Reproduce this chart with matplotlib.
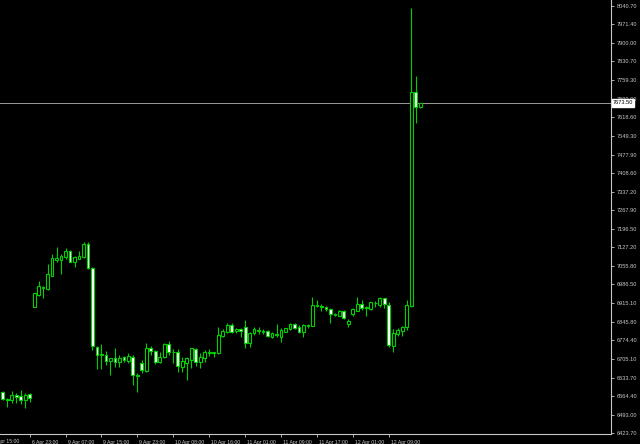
import numpy as np
import matplotlib
matplotlib.use("Agg")
import matplotlib.pyplot as plt
import matplotlib.transforms as mtransforms

# hourly OHLC, one value per bar (left to right)
opens = [6580.0, 6552.4, 6547.5, 6568.6, 6562.6, 6549.7, 6571.2,
         6901.9, 6946.2, 6971.6, 6968.9, 7019.3, 7079.9, 7078.8, 7089.0, 7112.9, 7072.3, 7082.6, 7090.1, 7140.4,
         7049.6, 6750.4, 6719.0, 6717.9, 6697.4, 6706.5, 6691.4, 6710.3, 6696.3, 6710.3,
         6639.5, 6687.6, 6659.0, 6746.7, 6735.3, 6693.6, 6710.3, 6760.6, 6729.3, 6728.5,
         6674.8, 6687.6, 6700.1, 6740.6, 6691.4, 6706.5, 6724.8, 6727.7, 6724.8, 6792.1,
         6807.3, 6832.7, 6811.1, 6817.5, 6826.3, 6763.3, 6801.2, 6811.1, 6806.1, 6811.1,
         6786.1, 6794.8, 6788.4, 6807.3, 6816.4, 6835.3, 6826.3, 6805.0, 6828.8, 6828.8,
         6905.7, 6905.7, 6901.9, 6893.2, 6870.5, 6867.8, 6885.6, 6835.3, 6873.1, 6886.8,
         6912.1, 6901.9, 6893.2, 6914.8, 6908.4, 6933.7, 6908.4, 6754.2, 6798.6, 6811.1,
         6826.3, 6904.6, 7716.1, 7657.0]
highs = [6582.7, 6556.2, 6582.7, 6575.1, 6586.5, 6573.9, 6575.1,
         6955.0, 6999.3, 6980.0, 7062.5, 7101.5, 7126.9, 7100.4, 7123.1, 7115.5, 7095.1, 7112.9, 7145.7, 7148.0,
         7050.5, 6751.2, 6760.6, 6735.3, 6707.6, 6744.4, 6719.0, 6715.2, 6727.7, 6719.0,
         6649.7, 6700.1, 6765.6, 6754.2, 6738.0, 6731.6, 6763.3, 6773.1, 6740.6, 6740.6,
         6712.6, 6712.6, 6746.7, 6744.4, 6727.7, 6738.0, 6741.8, 6731.6, 6826.3, 6816.4,
         6839.1, 6839.1, 6822.4, 6820.2, 6851.5, 6807.3, 6823.9, 6823.9, 6818.6, 6813.7,
         6805.0, 6835.3, 6820.2, 6822.4, 6839.1, 6841.3, 6832.7, 6835.3, 6835.3, 6937.5,
         6927.3, 6911.0, 6904.6, 6895.9, 6879.2, 6889.4, 6889.4, 6854.2, 6895.9, 6937.5,
         6927.3, 6904.6, 6920.9, 6923.5, 6939.7, 6936.0, 6920.9, 6816.4, 6820.2, 6830.0,
         6927.3, 8032.0, 7775.6, 7675.0]
lows = [6548.6, 6523.2, 6538.4, 6538.4, 6534.6, 6517.2, 6542.2,
        6899.0, 6944.0, 6933.6, 6967.0, 7018.0, 7072.3, 7025.8, 7082.6, 7070.1, 7053.4, 7080.7, 7088.2, 7044.7,
        6736.8, 6666.0, 6666.0, 6680.0, 6643.3, 6674.8, 6674.8, 6693.6, 6687.6, 6605.4,
        6580.0, 6652.0, 6654.6, 6719.0, 6685.0, 6687.6, 6707.6, 6719.0, 6687.6, 6655.8,
        6655.8, 6624.3, 6668.6, 6677.4, 6668.6, 6693.6, 6715.2, 6710.3, 6724.0, 6786.1,
        6801.2, 6801.2, 6801.2, 6788.4, 6745.2, 6750.4, 6794.8, 6798.6, 6798.6, 6786.1,
        6782.3, 6788.4, 6767.1, 6805.0, 6813.7, 6816.4, 6801.2, 6786.1, 6820.2, 6827.0,
        6901.9, 6885.6, 6885.6, 6841.3, 6865.0, 6865.0, 6854.2, 6826.3, 6865.0, 6884.0,
        6889.4, 6865.0, 6889.4, 6899.2, 6901.9, 6895.9, 6750.4, 6731.6, 6791.0, 6791.0,
        6813.7, 6902.0, 7596.5, 7653.3]
closes = [6552.4, 6548.6, 6566.4, 6559.9, 6549.7, 6568.6, 6556.2,
          6952.7, 6981.5, 6977.6, 7024.6, 7085.2, 7086.3, 7095.1, 7111.7, 7072.3, 7090.1, 7094.0, 7140.4, 7047.4,
          6754.2, 6719.0, 6720.9, 6697.4, 6706.5, 6693.6, 6708.8, 6700.1, 6716.4, 6643.3,
          6641.4, 6662.2, 6744.4, 6734.2, 6693.6, 6710.3, 6760.6, 6731.6, 6730.4, 6675.5,
          6696.3, 6708.8, 6744.4, 6693.6, 6712.6, 6731.6, 6731.6, 6731.6, 6794.8, 6811.1,
          6832.7, 6807.3, 6816.4, 6810.0, 6765.6, 6803.5, 6816.4, 6812.6, 6808.0, 6792.1,
          6801.2, 6800.4, 6813.7, 6820.2, 6835.3, 6822.4, 6805.0, 6832.7, 6832.7, 6908.4,
          6908.4, 6901.9, 6893.2, 6873.1, 6874.3, 6885.6, 6858.0, 6848.9, 6893.2, 6912.1,
          6897.0, 6895.9, 6918.6, 6915.9, 6933.7, 6912.1, 6756.8, 6801.2, 6813.7, 6826.3,
          6908.4, 7716.1, 7657.0, 7673.5]

time_labels = ["6 Apr 15:00", "6 Apr 23:00", "9 Apr 07:00", "9 Apr 15:00", "9 Apr 23:00",
               "10 Apr 08:00", "10 Apr 16:00", "11 Apr 01:00", "11 Apr 09:00",
               "11 Apr 17:00", "12 Apr 01:00", "12 Apr 09:00"]
price_labels = ["8040.70", "7971.40", "7900.00", "7830.70", "7759.30", "7690.00", "7618.60",
                "7549.30", "7477.90", "7408.60", "7337.20", "7267.90", "7196.50", "7127.20",
                "7055.80", "6986.50", "6915.10", "6845.80", "6774.40", "6705.10", "6633.70",
                "6564.40", "6493.00", "6423.70"]
last_price = 7673.50

o = np.array(opens)
h = np.array(highs)
l = np.array(lows)
c = np.array(closes)
x = np.arange(len(o))

fg = '#c8c8c8'
green = '#00d000'
font = ['Liberation Sans', 'DejaVu Sans']
ysize = 4.1
xsize = 3.7

fig = plt.figure(figsize=(6.4, 4.44), dpi=100, facecolor='black')
ax = fig.add_axes([0, 10 / 444, 611 / 640, 434 / 444])
ax.set_facecolor('black')

# wicks
ax.vlines(x, l, h, color=green, linewidth=0.8, zorder=2)

# bodies: hollow (black) = up, white = down
up = c >= o
body_bottom = np.minimum(o, c)
body_h = np.abs(c - o)
ax.bar(x, body_h, bottom=body_bottom, width=0.62,
       color=np.where(up, 'black', 'white'), edgecolor=green, linewidth=0.8, zorder=3)

# current price line
ax.axhline(last_price, color='#9a9a9a', linewidth=0.7, zorder=1)

ax.set_xlim(-0.6, 135.5)
ax.set_ylim(6419.8, 8063.4)

for side in ['top', 'left']:
    ax.spines[side].set_visible(False)
for side in ['right', 'bottom']:
    ax.spines[side].set_color(fg)
    ax.spines[side].set_linewidth(0.8)

# price axis on the right
ax.yaxis.tick_right()
ax.set_yticks([float(s) for s in price_labels])
ax.set_yticklabels(price_labels, fontfamily=font)
ax.tick_params(axis='y', colors=fg, length=2.5, width=0.6, pad=1.5, labelsize=ysize)

# time axis, labels start right of each tick
tick_bars = list(range(-2, len(o), 8))
ax.set_xticks(tick_bars[1:])
ax.set_xticklabels(time_labels[1:], ha='left', fontfamily=font)
ax.tick_params(axis='x', colors=fg, length=2.5, width=0.6, pad=1.5, labelsize=xsize)
shift = mtransforms.ScaledTranslation(2 / 100, 0, fig.dpi_scale_trans)
for lab in ax.get_xticklabels():
    lab.set_transform(lab.get_transform() + shift)

# first label whose tick is off-screen
tr = mtransforms.blended_transform_factory(ax.transData, ax.transAxes)
ax.text(tick_bars[0] - 0.6, -0.012, time_labels[0], transform=tr + shift, ha='left', va='top',
        color=fg, fontsize=xsize, fontfamily=font, clip_on=False)

# last price tag on the axis
trp = mtransforms.blended_transform_factory(ax.transAxes, ax.transData)
ax.text(1.003, last_price, '%.2f' % last_price, transform=trp, ha='left', va='center',
        color='black', fontsize=ysize, fontfamily=font, clip_on=False, zorder=5,
        bbox=dict(facecolor='white', edgecolor='white', pad=0.8))

fig.savefig('out.png', dpi=100, facecolor='black')
